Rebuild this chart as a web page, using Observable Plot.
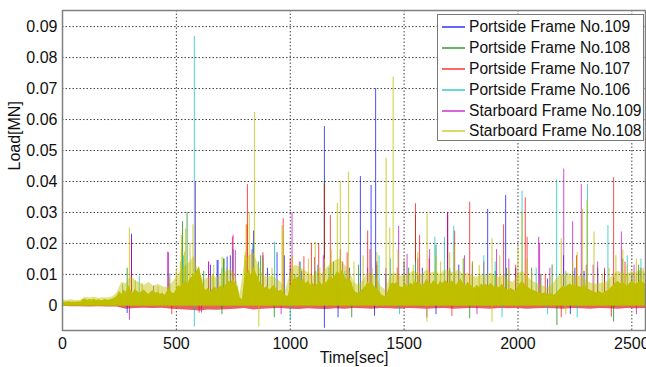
<!DOCTYPE html>
<html>
<head>
<meta charset="utf-8">
<script src="https://cdn.jsdelivr.net/npm/d3@7"></script>
<script src="https://cdn.jsdelivr.net/npm/@observablehq/plot@0.6"></script>
<style>
  html, body { margin: 0; padding: 0; background: #fff; }
  #wrap { position: relative; width: 646px; height: 367px; font-family: "Liberation Sans", Arial, sans-serif; }
  #legend { position: absolute; left: 437px; top: 14px; width: 207px; height: 127px; border: 1px solid #777; background: #fff; box-sizing: border-box; padding-top: 2px; }
  .row { height: 20.8px; display: flex; align-items: center; font-size: 15.6px; color: #111; white-space: nowrap; }
  .sw { width: 23px; height: 0; margin-left: 4px; margin-right: 4px; border-top: 2px solid; opacity: 0.6; }
</style>
</head>
<body>
<div id="wrap"></div>
<script>
// ---- series ----
const series = ["Portside Frame No.109", "Portside Frame No.108", "Portside Frame No.107", "Portside Frame No.106", "Starboard Frame No.109", "Starboard Frame No.108"];
const colors = ["#0000ff", "#008000", "#ff0000", "#00bfbf", "#bf00bf", "#bfbf00"];

// ---- ticks ----
const xTicks = [0, 500, 1000, 1500, 2000, 2500];
const xTickLabels = ["0", "500", "1000", "1500", "2000", "2500"];
const yTicks = [0, 0.01, 0.02, 0.03, 0.04, 0.05, 0.06, 0.07, 0.08, 0.09];
const yTickLabels = ["0", "0.01", "0.02", "0.03", "0.04", "0.05", "0.06", "0.07", "0.08", "0.09"];

// ---- dense core of Starboard Frame No.108 (every 10 s) ----
const bandTime = d3.range(0, 2561, 10);
const bandTop = [
  0.0012,0.0010,0.0011,0.0012,0.0010,0.0011,0.0010,0.0012,0.0011,0.0018,0.0021,0.0016,0.0019,0.0017,0.0020,0.0016,0.0018,0.0015,0.0017,0.0019,0.0016,0.0018,0.0020,0.0024,0.0030,
  0.0045,0.0035,0.0050,0.0042,0.0065,0.0048,0.0040,0.0052,0.0045,0.0038,0.0046,0.0050,0.0041,0.0036,0.0044,0.0048,0.0039,0.0043,0.0035,0.0040,0.0032,0.0045,0.0055,0.0042,0.0038,
  0.0050,0.0065,0.0058,0.0072,0.0080,0.0068,0.0085,0.0092,0.0100,0.0110,0.0125,0.0095,0.0060,0.0048,0.0055,0.0045,0.0052,0.0060,0.0050,0.0058,0.0065,0.0055,0.0070,0.0078,0.0072,0.0085,0.0070,0.0060,0.0025,0.0018,
  0.0085,0.0100,0.0115,0.0095,0.0125,0.0105,0.0090,0.0070,0.0065,0.0055,0.0062,0.0050,0.0058,0.0065,0.0052,0.0045,0.0050,0.0040,0.0032,0.0028,
  0.0055,0.0075,0.0090,0.0082,0.0095,0.0078,0.0085,0.0070,0.0080,0.0065,0.0072,0.0060,0.0068,0.0078,0.0065,0.0080,0.0072,0.0088,0.0095,0.0085,0.0100,0.0110,0.0098,0.0115,0.0090,0.0082,0.0088,0.0075,0.0050,0.0042,
  0.0038,0.0045,0.0052,0.0060,0.0075,0.0068,0.0072,0.0060,0.0055,0.0048,0.0035,0.0030,0.0028,0.0045,0.0065,0.0072,0.0068,0.0075,0.0062,0.0058,
  0.0060,0.0068,0.0058,0.0072,0.0065,0.0080,0.0070,0.0075,0.0062,0.0070,0.0085,0.0075,0.0068,0.0080,0.0072,0.0065,0.0078,0.0070,0.0082,0.0075,0.0068,0.0080,0.0072,0.0065,0.0078,0.0085,0.0070,0.0062,0.0075,0.0068,
  0.0060,0.0055,0.0065,0.0058,0.0070,0.0062,0.0068,0.0060,0.0072,0.0065,0.0058,0.0062,0.0055,0.0068,0.0060,0.0052,0.0048,0.0055,0.0050,0.0045,0.0062,0.0070,0.0078,0.0068,0.0060,0.0055,0.0050,0.0048,0.0045,0.0042,
  0.0040,0.0038,0.0042,0.0036,0.0035,0.0038,0.0033,0.0040,0.0048,0.0055,0.0062,0.0058,0.0065,0.0070,0.0062,0.0068,0.0058,0.0062,0.0055,0.0065,0.0060,0.0052,0.0048,0.0045,0.0042,0.0040,0.0045,0.0038,0.0042,0.0046,
  0.0050,0.0058,0.0065,0.0072,0.0078,0.0070,0.0075,0.0068,0.0062,0.0070,0.0078,0.0072,0.0068,0.0075,0.0082,0.0072,0.0070
];
const bandBase = -0.0003;

// ---- lighter upper fringe of Starboard Frame No.108 (every 20 s) ----
const haloTime = d3.range(0, 2561, 20);
const haloTop = [
  0.0018,0.0016,0.0018,0.0016,0.0017,0.0026,0.0024,0.0026,0.0023,0.0025,0.0024,0.0028,0.0040,
  0.0075,0.0070,0.0095,0.0080,0.0072,0.0065,0.0075,0.0062,0.0068,0.0060,0.0058,0.0070,
  0.0090,0.0110,0.0125,0.0140,0.0160,0.0095,0.0080,0.0090,0.0095,0.0088,0.0100,0.0110,0.0115,0.0100,0.0035,
  0.0140,0.0160,0.0170,0.0130,0.0100,0.0090,0.0095,0.0085,0.0075,0.0050,
  0.0100,0.0130,0.0125,0.0115,0.0105,0.0095,0.0110,0.0100,0.0120,0.0135,0.0145,0.0150,0.0130,0.0115,
  0.0075,0.0065,0.0080,0.0105,0.0100,0.0090,0.0060,0.0050,0.0095,0.0105,0.0095,
  0.0095,0.0100,0.0110,0.0105,0.0100,0.0115,0.0105,0.0110,0.0100,0.0115,0.0110,0.0105,0.0115,0.0100,0.0105,
  0.0095,0.0090,0.0100,0.0095,0.0105,0.0095,0.0090,0.0100,0.0080,0.0075,0.0100,0.0110,0.0095,0.0080,0.0072,
  0.0065,0.0060,0.0058,0.0075,0.0095,0.0100,0.0105,0.0095,0.0090,0.0100,0.0080,0.0072,0.0068,0.0070,0.0072,
  0.0080,0.0100,0.0110,0.0105,0.0100,0.0110,0.0105,0.0115,0.0105
];

// ---- lower fringe of all series (every 40 s) ----
const lowTime = d3.range(0, 2561, 40);
const lowBand = [
  -0.0003,-0.0004,-0.0004,-0.0005,-0.0004,-0.0005,-0.0005,
  -0.0012,-0.0010,-0.0009,-0.0010,-0.0009,-0.0012,-0.0014,-0.0016,-0.0018,-0.0015,-0.0016,-0.0014,-0.0012,
  -0.0010,-0.0015,-0.0012,-0.0011,-0.0010,-0.0012,-0.0013,-0.0011,-0.0012,-0.0013,-0.0011,-0.0012,-0.0010,
  -0.0011,-0.0012,-0.0010,-0.0011,-0.0012,-0.0010,-0.0011,-0.0012,-0.0011,-0.0010,-0.0012,-0.0011,-0.0010,
  -0.0011,-0.0012,-0.0010,-0.0011,-0.0010,-0.0012,-0.0011,-0.0010,-0.0011,-0.0012,-0.0010,-0.0011,-0.0012,
  -0.0010,-0.0011,-0.0012,-0.0010,-0.0011,-0.0010
];

// ---- peaks [time s, load MN] per series ----
const p109 = [[303,0.023],[284,-0.0026],[470,0.007],[650,0.013],[679,0.0145],[683,0.0145],[723,0.0156],[737,0.016],[839,0.024],[900,0.012],[942,0.017],[974,0.016],[1030,0.009],[1050,0.011],[1150,0.0577],[1150,-0.0074],[1210,-0.004],[1260,0.012],[1308,0.0416],[1355,0.0387],[1370,-0.0035],[1375,0.070],[1420,0.010],[1500,0.014],[1560,0.0095],[1580,0.012],[1640,-0.003],[1691,0.030],[1700,0.011],[1740,0.013],[1800,0.009],[1867,0.031],[1946,0.0355],[1990,0.012],[2100,0.010],[2130,0.0085],[2200,0.016],[2230,-0.003],[2250,0.012],[2290,0.011],[2380,0.011],[2420,0.009],[2500,0.010],[2530,0.011]];
const p108 = [[284,0.012],[527,0.027],[547,0.030],[620,0.011],[700,-0.003],[708,0.015],[709,0.015],[860,0.014],[870,0.016],[930,-0.004],[1000,0.012],[1020,0.010],[1110,0.011],[1150,0.040],[1190,0.014],[1270,-0.004],[1300,0.013],[1380,0.013],[1520,0.012],[1550,0.029],[1640,0.0195],[1700,0.012],[1788,-0.0043],[1800,0.014],[1900,0.011],[1950,0.012],[2060,0.012],[2150,0.013],[2171,-0.0065],[2240,0.011],[2350,0.012],[2420,-0.0054],[2460,0.015],[2530,0.013],[2560,0.010]];
const p107 = [[303,0.021],[480,-0.003],[600,-0.0025],[746,0.022],[810,0.026],[812,0.039],[880,0.017],[969,0.028],[1000,0.015],[1060,0.0157],[1093,0.020],[1125,0.020],[1150,0.039],[1176,0.029],[1220,0.018],[1250,0.017],[1340,0.024],[1350,0.018],[1380,0.014],[1470,0.012],[1550,0.0328],[1568,0.0226],[1610,0.015],[1691,0.030],[1710,-0.0035],[1722,0.024],[1788,0.0333],[1850,0.014],[1937,0.026],[1990,0.013],[2032,0.0347],[2040,0.022],[2120,0.010],[2190,-0.004],[2257,0.016],[2300,0.013],[2380,0.012],[2410,-0.0038],[2420,0.0412],[2470,0.014],[2540,0.012]];
const p106 = [[264,0.0068],[337,0.0094],[471,0.0102],[531,0.016],[540,0.013],[579,0.0868],[579,-0.007],[700,0.012],[750,0.018],[835,0.020],[880,0.015],[931,0.0204],[1000,-0.005],[1045,0.014],[1120,0.013],[1170,0.012],[1240,0.011],[1390,0.016],[1440,0.015],[1480,-0.003],[1550,0.014],[1635,0.022],[1677,0.022],[1718,0.0256],[1760,0.015],[1850,0.016],[1900,0.014],[1930,-0.004],[2018,0.0369],[2080,0.012],[2130,-0.003],[2170,0.0405],[2210,0.011],[2260,-0.004],[2305,0.039],[2395,0.0258],[2480,0.016],[2540,0.015]];
const s109 = [[294,-0.0048],[303,0.022],[400,0.0062],[462,0.0172],[465,0.017],[584,0.040],[610,-0.0025],[641,0.014],[642,0.014],[749,0.0226],[759,0.0177],[832,0.018],[880,0.016],[960,-0.003],[1008,0.030],[1040,0.014],[1107,0.0155],[1145,0.016],[1230,0.014],[1340,0.012],[1420,0.012],[1476,0.0255],[1513,0.0165],[1560,0.015],[1600,-0.004],[1612,0.018],[1691,0.029],[1765,0.016],[1800,0.013],[1820,-0.003],[1906,0.018],[1960,0.015],[2091,0.022],[2095,0.020],[2140,0.012],[2201,0.044],[2240,0.027],[2278,0.039],[2330,0.013],[2350,0.014],[2454,0.0237],[2510,0.013],[2520,-0.003],[2560,0.014]];
const s108 = [[294,0.025],[320,0.008],[350,0.007],[420,0.006],[470,0.009],[500,0.012],[518,0.014],[522,0.0226],[523,0.018],[536,0.0172],[540,0.0247],[560,0.020],[573,0.026],[600,0.012],[660,0.010],[664,0.0129],[701,0.0156],[720,0.012],[800,0.016],[803,0.0172],[806,0.026],[820,0.030],[843,0.0623],[862,-0.007],[880,0.015],[920,0.012],[964,0.0258],[970,0.024],[1010,0.016],[1040,0.013],[1080,0.015],[1110,0.0204],[1130,0.012],[1150,0.015],[1180,0.018],[1207,0.033],[1220,0.040],[1256,0.043],[1280,0.014],[1320,0.016],[1360,0.012],[1381,0.017],[1421,0.0475],[1437,0.025],[1452,0.0737],[1473,0.018],[1500,0.015],[1540,0.013],[1560,0.017],[1600,-0.0054],[1601,0.0296],[1640,0.016],[1660,0.014],[1700,0.017],[1720,0.019],[1760,0.015],[1800,0.014],[1830,0.013],[1886,0.0215],[1886,-0.0054],[1920,0.016],[1960,0.012],[2000,0.019],[2018,0.030],[2040,0.015],[2060,0.011],[2100,0.010],[2140,0.009],[2190,0.0215],[2210,-0.003],[2240,0.014],[2260,0.017],[2283,0.031],[2303,0.034],[2334,0.0237],[2370,0.010],[2400,0.012],[2430,0.016],[2460,0.018],[2480,0.013],[2520,0.015],[2550,0.012]];

// ---- tables ----
const peakSets = [p109, p108, p107, p106, s109, s108];
const peaks = peakSets.flatMap((arr, i) => arr.map(([t, v]) => ({t, v, s: series[i]})));
const peaksOther = peaks.filter(d => d.s !== series[5]);
const peaksTop = peaks.filter(d => d.s === series[5]);
const band = bandTime.map((t, i) => ({t, top: bandTop[i], s: series[5]}));
const halo = haloTime.map((t, i) => ({t, top: haloTop[i], s: series[5]}));
const low = lowTime.map((t, i) => ({t, v: lowBand[i]}));

const chart = Plot.plot({
  width: 646, height: 367,
  marginLeft: 62, marginRight: 1, marginTop: 10, marginBottom: 37,
  style: {fontFamily: '"Liberation Sans", Arial, sans-serif', fontSize: "16px", background: "#fff"},
  x: {domain: [0, 2560]},
  y: {domain: [-0.0081, 0.0952]},
  color: {domain: series, range: colors},
  marks: [
    Plot.gridX(xTicks, {stroke: "#000", strokeOpacity: 0.75, strokeDasharray: "1.5,2"}),
    Plot.gridY(yTicks, {stroke: "#000", strokeOpacity: 0.75, strokeDasharray: "1.5,2"}),
    Plot.areaY(low, {x: "t", y1: 0, y2: "v", fill: "#e03a3a", fillOpacity: 0.8}),
    Plot.ruleX(peaksOther, {x: "t", y1: 0, y2: "v", stroke: "s", strokeWidth: 1, strokeOpacity: 0.7}),
    Plot.areaY(halo, {x: "t", y1: 0, y2: "top", fill: "s", fillOpacity: 0.45}),
    Plot.areaY(band, {x: "t", y1: () => bandBase, y2: "top", fill: "s"}),
    Plot.ruleX(peaksTop, {x: "t", y1: 0, y2: "v", stroke: "s", strokeWidth: 1.2, strokeOpacity: 0.65}),
    Plot.frame({stroke: "#808080", strokeWidth: 1.5}),
    Plot.axisX(xTicks, {tickSize: 0, tickPadding: 7, label: null, fill: "#111", fontSize: 16, tickFormat: (d, i) => xTickLabels[i]}),
    Plot.axisY(yTicks, {tickSize: 0, tickPadding: 5, label: null, fill: "#111", fontSize: 16, tickFormat: (d, i) => yTickLabels[i]}),
    Plot.text(["Load[MN]"], {frameAnchor: "left", dx: -48, rotate: -90, fontSize: 16, fill: "#111"}),
    Plot.text(["Time[sec]"], {frameAnchor: "bottom", dy: 32, fontSize: 16, fill: "#111"})
  ]
});

const wrap = document.getElementById("wrap");
wrap.appendChild(chart);
const legend = document.createElement("div");
legend.id = "legend";
series.forEach((name, i) => {
  const row = document.createElement("div");
  row.className = "row";
  const sw = document.createElement("span");
  sw.className = "sw";
  sw.style.borderTopColor = colors[i];
  const lab = document.createElement("span");
  lab.textContent = name;
  row.appendChild(sw);
  row.appendChild(lab);
  legend.appendChild(row);
});
wrap.appendChild(legend);
</script>
</body>
</html>
